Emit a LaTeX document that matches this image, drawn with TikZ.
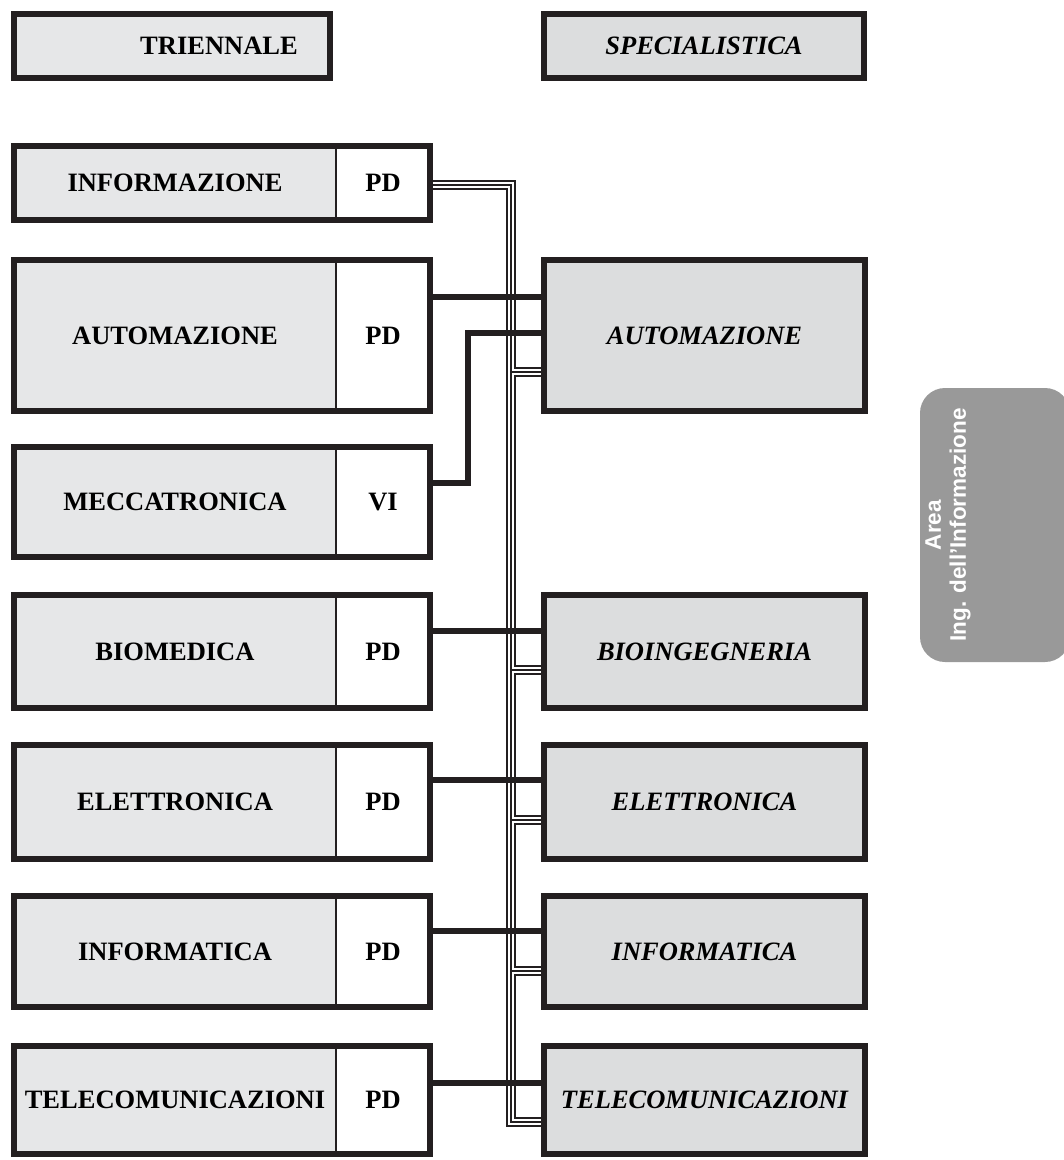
\documentclass[tikz,border=0pt]{standalone}
\usepackage{fontspec}
\setmainfont{Liberation Serif}
\newfontfamily\areafont{Liberation Sans}
\usetikzlibrary{calc}
\definecolor{ink}{HTML}{231F20}
\definecolor{lgrey}{HTML}{E6E7E8}
\definecolor{sgrey}{HTML}{DCDDDE}
\definecolor{agrey}{HTML}{999999}
\begin{document}
\begin{tikzpicture}[x=1pt,y=-1pt,
  cell/.style={rectangle, inner sep=0pt, outer sep=0pt, anchor=north west,
    font=\fontsize{26.5}{30}\selectfont\bfseries},
  namecell/.style={cell, fill=lgrey, minimum width=322pt},
  codecell/.style={cell, fill=white, minimum width=94pt},
  frame/.style={draw=ink, line width=6pt},
  divider/.style={draw=ink, line width=1.5pt},
  headbox/.style={cell, draw=ink, line width=6pt, minimum height=64pt},
  specbox/.style={cell, fill=sgrey, draw=ink, line width=6pt, minimum width=321pt,
    font=\fontsize{26.5}{30}\selectfont\bfseries\itshape},
  wire/.style={draw=ink, line width=6pt},
  tubeA/.style={draw=ink, line width=9.5pt},
  tubeB/.style={draw=white, line width=6.5pt},
  tubeC/.style={draw=ink, line width=1.3pt},
  areabox/.style={fill=agrey, rounded corners=25pt, inner sep=0pt},
  areatext/.style={text=white, align=center, rotate=90,
    font=\areafont\bfseries\fontsize{22.5}{25}\selectfont},
]
\useasboundingbox (0,0) rectangle (1064,1160);

% ---------- connector points ----------
\coordinate (tA) at (511,185);
\coordinate (tB) at (511,1122);
\coordinate (j1) at (511,372);
\coordinate (j2) at (511,670);
\coordinate (j3) at (511,820);
\coordinate (j4) at (511,971);
\coordinate (mk) at (468,483);

% header boxes
\node[headbox, fill=lgrey, minimum width=316pt] (tri) at (14,14) {\hspace*{94pt}TRIENNALE};
\node[headbox, fill=sgrey, minimum width=320pt,
  font=\fontsize{26.5}{30}\selectfont\bfseries\itshape] (spe) at (544,14) {SPECIALISTICA};

% right boxes
\node[specbox, minimum height=151pt] (autoS) at (544,260) {AUTOMAZIONE};
\node[specbox, minimum height=113pt] (bioS) at (544,595) {BIOINGEGNERIA};
\node[specbox, minimum height=114pt] (eleS) at (544,745) {ELETTRONICA};
\node[specbox, minimum height=111pt] (infS) at (544,896) {INFORMATICA};
\node[specbox, minimum height=108pt] (telS) at (544,1046) {TELECOMUNICAZIONI};

% left boxes: name cell + code cell
\newcommand\leftrow[5]{%
  \node[namecell, minimum height=#3pt] (#1N) at (14,#2) {#4};
  \node[codecell, minimum height=#3pt] (#1C) at (#1N.north east) {#5};
}
\leftrow{info}{146}{74}{INFORMAZIONE}{PD}
\leftrow{auto}{260}{151}{AUTOMAZIONE}{PD}
\leftrow{mecc}{447}{110}{MECCATRONICA}{VI}
\leftrow{bio}{595}{113}{BIOMEDICA}{PD}
\leftrow{ele}{745}{114}{ELETTRONICA}{PD}
\leftrow{inf}{896}{111}{INFORMATICA}{PD}
\leftrow{tel}{1046}{108}{TELECOMUNICAZIONI}{PD}

% tube (triple line)
\foreach \st in {tubeA,tubeB,tubeC}{
  \draw[\st, line join=miter] (infoC.east |- tA) -- (tA) -- (tB) -- (telS.west |- tB);
  \draw[\st] (j1) -- (autoS.west |- j1);
  \draw[\st] (j2) -- (bioS.west |- j2);
  \draw[\st] (j3) -- (eleS.west |- j3);
  \draw[\st] (j4) -- (infS.west |- j4);
}

% thick wires
\draw[wire] ([yshift=-37pt]autoC.north east) -- ([yshift=-37pt]autoS.north west);
\draw[wire, line join=miter] ([yshift=-73pt]autoS.north west) -| (mk) -- (meccC.east |- mk);
\draw[wire] ([yshift=-36pt]bioC.north east) -- ([yshift=-36pt]bioS.north west);
\draw[wire] ([yshift=-35pt]eleC.north east) -- ([yshift=-35pt]eleS.north west);
\draw[wire] ([yshift=-35pt]infC.north east) -- ([yshift=-35pt]infS.north west);
\draw[wire] ([yshift=-37pt]telC.north east) -- ([yshift=-37pt]telS.north west);

% frames of the left boxes (on top)
\foreach \r in {info,auto,mecc,bio,ele,inf,tel}{
  \draw[frame] (\r N.north west) rectangle (\r C.south east);
  \draw[divider] (\r N.north east) -- (\r N.south east);
}
% re-stroke right box frames on top of connector ends
\foreach \r in {autoS,bioS,eleS,infS,telS}{
  \draw[frame] (\r.north west) rectangle (\r.south east);
}

% area label
\node[areabox, minimum width=150pt, minimum height=274pt] (areabg) at (995,525) {};
\node[areatext] (area) at (948,525) {Area\\Ing. dell’Informazione};
\end{tikzpicture}
\end{document}
